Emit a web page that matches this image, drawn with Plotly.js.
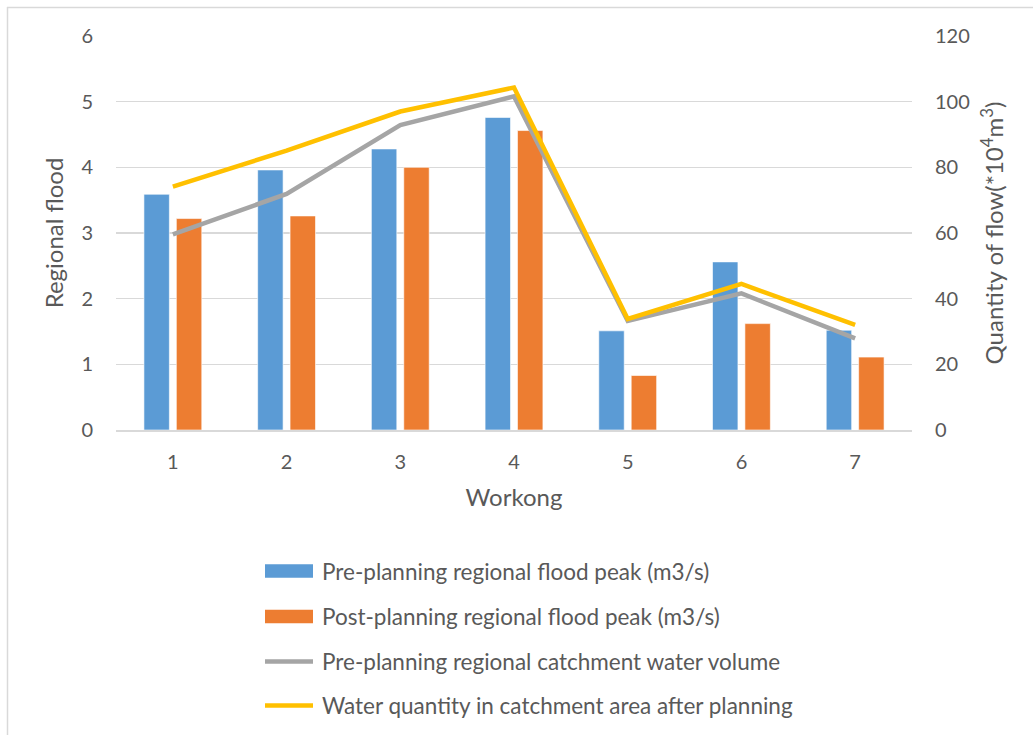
<!DOCTYPE html>
<html>
<head>
<meta charset="utf-8">
<script src="https://cdn.plot.ly/plotly-3.0.1.min.js"></script>
<style>
  html, body { margin: 0; padding: 0; background: #fff; }
  #chart { width: 1033px; height: 735px; }
</style>
</head>
<body>
<div id="chart"></div>
<script>
// Working conditions on the x axis
const workings = ['1', '2', '3', '4', '5', '6', '7'];

// Regional flood peak, m3/s (left axis)
const prePeak  = [3.59, 3.96, 4.28, 4.76, 1.51, 2.56, 1.52];
const postPeak = [3.22, 3.26, 4.00, 4.56, 0.83, 1.62, 1.11];

// Catchment water volume, *10^4 m3 (right axis)
const preVolume  = [59.6, 71.9, 92.9, 101.6, 33.2, 41.6, 27.9];
const postVolume = [74.1, 85.1, 97.0, 104.3, 33.8, 44.5, 32.0];

const seriesNames = [
  'Pre-planning regional flood peak (m3/s)',
  'Post-planning regional flood peak (m3/s)',
  'Pre-planning regional catchment water volume',
  'Water quantity in catchment area after planning'
];
const leftTicks = [0, 1, 2, 3, 4, 5, 6];
const rightTicks = [0, 20, 40, 60, 80, 100, 120];

const BLUE = '#5B9BD5', ORANGE = '#ED7D31', GREY = '#A5A5A5', GOLD = '#FFC000';
const TEXT = '#595959', GRID = '#D9D9D9';
const FONT = 'Lato, "Open Sans", sans-serif';

// plot area in pixels
const W = 1033, H = 735;
const M = { l: 116, r: 121, t: 36, b: 305 };
const PW = W - M.l - M.r, PH = H - M.t - M.b;
const px = x => (x - M.l) / PW;
const py = y => (H - M.b - y) / PH;

const traces = [
  { type: 'bar', name: seriesNames[0], x: workings, y: prePeak,
    marker: { color: BLUE, line: { color: 'rgba(255,255,255,0.6)', width: 1 } },
    showlegend: false },
  { type: 'bar', name: seriesNames[1], x: workings, y: postPeak,
    marker: { color: ORANGE, line: { color: 'rgba(255,255,255,0.6)', width: 1 } },
    showlegend: false },
  { type: 'scatter', mode: 'lines', name: seriesNames[2], x: workings, y: preVolume,
    yaxis: 'y2', line: { color: GREY, width: 4.5 }, showlegend: false },
  { type: 'scatter', mode: 'lines', name: seriesNames[3], x: workings, y: postVolume,
    yaxis: 'y2', line: { color: GOLD, width: 4.5 }, showlegend: false }
];

// legend drawn as shapes + text
const legendRows = [
  { y: 571, kind: 'rect', color: BLUE },
  { y: 616.5, kind: 'rect', color: ORANGE },
  { y: 661.5, kind: 'line', color: GREY },
  { y: 705.5, kind: 'line', color: GOLD }
];
const shapes = [];
const annotations = [];
legendRows.forEach((row, i) => {
  if (row.kind === 'rect') {
    shapes.push({ type: 'rect', xref: 'paper', yref: 'paper',
      x0: px(265), x1: px(313), y0: py(row.y - 6.7), y1: py(row.y + 6.7),
      fillcolor: row.color, line: { width: 0 } });
  } else {
    shapes.push({ type: 'line', xref: 'paper', yref: 'paper',
      x0: px(265), x1: px(313), y0: py(row.y), y1: py(row.y),
      line: { color: row.color, width: 4.5 } });
  }
  annotations.push({ xref: 'paper', yref: 'paper', x: px(320), y: py(row.y),
    xanchor: 'left', yanchor: 'middle', showarrow: false, text: seriesNames[i],
    font: { family: FONT, size: 22.5, color: TEXT } });
});

// chart frame (top and left edges)
shapes.push({ type: 'line', xref: 'paper', yref: 'paper',
  x0: px(7.5), x1: px(7.5), y0: py(7), y1: py(735), line: { color: GRID, width: 1.5 } });
shapes.push({ type: 'line', xref: 'paper', yref: 'paper',
  x0: px(7), x1: px(1033), y0: py(7.5), y1: py(7.5), line: { color: GRID, width: 1.5 } });

const layout = {
  width: W, height: H,
  margin: M,
  paper_bgcolor: '#fff', plot_bgcolor: '#fff',
  font: { family: FONT, size: 20, color: TEXT },
  barmode: 'group', bargap: 0.43, bargroupgap: 0.215,
  showlegend: false,
  xaxis: {
    type: 'category', categoryarray: workings,
    showgrid: false, showline: true, linecolor: GRID, linewidth: 1.5,
    ticks: '', ticklabelstandoff: 13,
    tickfont: { family: FONT, size: 20, color: TEXT },
    title: { text: 'Workong', font: { family: FONT, size: 24, color: TEXT }, standoff: 17 }
  },
  yaxis: {
    range: [0, 6], tickvals: leftTicks, ticktext: leftTicks.map(String),
    showgrid: true, gridcolor: GRID, gridwidth: 1.5, zeroline: false,
    showline: false, ticks: '', ticklabelstandoff: 22,
    tickfont: { family: FONT, size: 20, color: TEXT },
    title: { text: 'Regional flood', font: { family: FONT, size: 24, color: TEXT }, standoff: 10 }
  },
  yaxis2: {
    overlaying: 'y', side: 'right', range: [0, 120],
    tickvals: rightTicks, ticktext: rightTicks.map(String),
    showgrid: false, zeroline: false, showline: false, ticks: '', ticklabelstandoff: 22,
    tickfont: { family: FONT, size: 20, color: TEXT },
    title: { text: 'Quantity of flow(*10<sup>4</sup>m<sup>3</sup>)',
      font: { family: FONT, size: 24, color: TEXT }, standoff: 17 }
  },
  shapes: shapes,
  annotations: annotations
};

Plotly.newPlot('chart', traces, layout, { displayModeBar: false, staticPlot: true });
</script>
</body>
</html>
